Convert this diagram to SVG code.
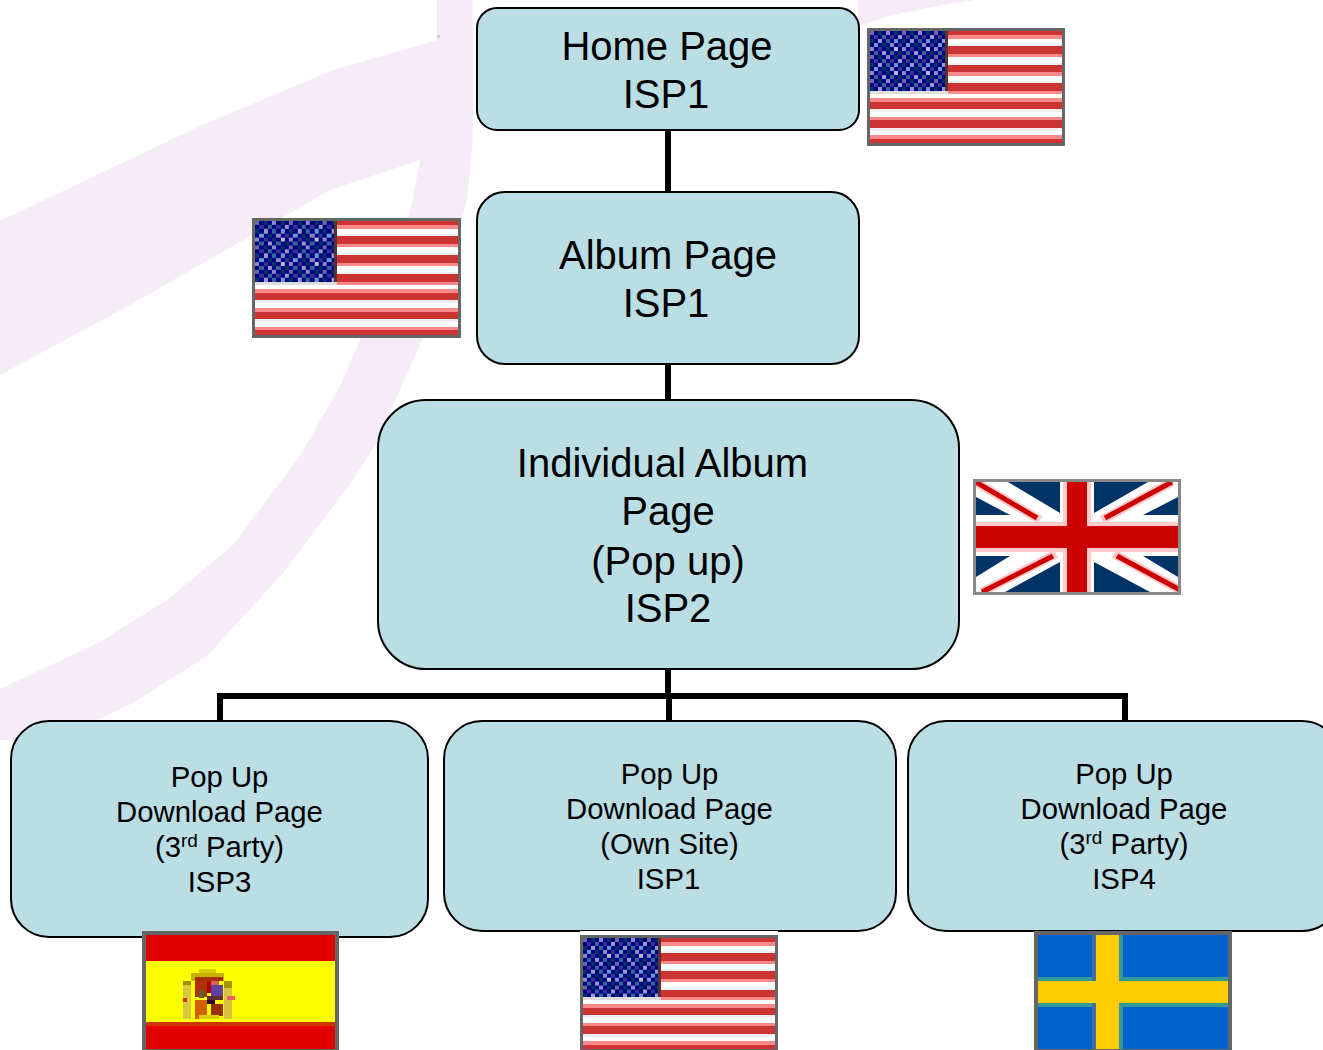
<svg xmlns="http://www.w3.org/2000/svg" width="1323" height="1050" viewBox="0 0 1323 1050">
<style>
.box{fill:#bbdde4;stroke:#000;stroke-width:2}
.lbl{font-family:"Liberation Sans",Arial,sans-serif;text-anchor:middle;fill:#000}
.lg{font-size:40px}
.sm{font-size:29.3px}
.sup{font-size:19px}
.conn{fill:none;stroke:#000;stroke-width:6}
.swoosh{fill:#f6ecf8}
.crisp{shape-rendering:crispEdges}
.r{fill:#cc3333}
.p{fill:#ff8888}
.g{fill:#eeeeee}
</style>
<defs>
<pattern id="stars" patternUnits="userSpaceOnUse" width="32" height="24">
<g shape-rendering="crispEdges">
<rect width="32" height="24" fill="#000080"/>
<rect x="0" y="0" width="4" height="4" fill="#6a6aa8"/><rect x="8" y="0" width="4" height="4" fill="#003366"/><rect x="16" y="0" width="4" height="4" fill="#8a8ac8"/><rect x="24" y="0" width="4" height="4" fill="#003366"/>
<rect x="4" y="4" width="4" height="4" fill="#333399"/><rect x="12" y="4" width="4" height="4" fill="#336699"/><rect x="20" y="4" width="4" height="4" fill="#333399"/><rect x="28" y="4" width="4" height="4" fill="#9999cc"/>
<rect x="0" y="8" width="4" height="4" fill="#003366"/><rect x="8" y="8" width="4" height="4" fill="#9999cc"/><rect x="16" y="8" width="4" height="4" fill="#336699"/><rect x="24" y="8" width="4" height="4" fill="#6699cc"/>
<rect x="4" y="12" width="4" height="4" fill="#6699cc"/><rect x="12" y="12" width="4" height="4" fill="#003366"/><rect x="20" y="12" width="4" height="4" fill="#8a8ac8"/><rect x="28" y="12" width="4" height="4" fill="#333399"/>
<rect x="0" y="16" width="4" height="4" fill="#8a8ac8"/><rect x="8" y="16" width="4" height="4" fill="#333399"/><rect x="16" y="16" width="4" height="4" fill="#003366"/><rect x="24" y="16" width="4" height="4" fill="#bbbbcc"/>
<rect x="4" y="20" width="4" height="4" fill="#336699"/><rect x="12" y="20" width="4" height="4" fill="#9999cc"/><rect x="20" y="20" width="4" height="4" fill="#336699"/><rect x="28" y="20" width="4" height="4" fill="#003366"/>
</g>
</pattern>
<symbol id="usflag" viewBox="0 0 192 112" preserveAspectRatio="none">
<g class="crisp">
<rect width="192" height="112" fill="#fff"/>
<rect class="r" y="0" width="192" height="4"/><rect class="p" y="4" width="192" height="4"/><rect class="g" y="13" width="192" height="2"/>
<rect class="r" y="15" width="192" height="8"/><rect class="p" y="23" width="192" height="3"/><rect class="g" y="31.500" width="192" height="2"/>
<rect class="r" y="33.500" width="192" height="7.500"/><rect class="p" y="41" width="192" height="3.500"/><rect class="g" y="50" width="192" height="2"/>
<rect class="r" y="52" width="192" height="7.500"/><rect class="p" y="59.500" width="192" height="3.500"/>
<rect class="r" y="70.500" width="192" height="7.500"/><rect class="p" y="67" width="192" height="3.500"/><rect class="g" y="78" width="192" height="3"/>
<rect class="p" y="85.500" width="192" height="3.500"/><rect class="r" y="89" width="192" height="7.500"/><rect class="g" y="96.500" width="192" height="3"/>
<rect class="p" y="104" width="192" height="3.500"/><rect class="r" y="107.500" width="192" height="4.500"/>
<rect width="75" height="60" fill="url(#stars)"/>
<rect x="75" width="3" height="60" fill="#553333"/>
<rect y="60" width="78" height="3" fill="#dddddd"/>
</g>
</symbol>
<clipPath id="ukclip"><rect x="976" y="482" width="202" height="110"/></clipPath>
</defs>
<g id="background">
<path class="swoosh" d="M437 0H473V140L467 200L450 265L423 338L377 442L353 480L283 573L207 656L133 703L93 722L60 740H0V689L100 642L167 600L233 545L300 456L340 386L360 340L410 212L420 160L330 190L252 235L130 305L0 375V221L200 126L333 70L437 40Z"/>
<path class="swoosh" d="M858 0H975L942 5L893 15L868 23L858 26Z"/>
<rect x="437" y="35" width="3" height="3" fill="#cccccc"/>
</g>
<g id="connectors">
<path class="conn" d="M668 130V192M668 364V400M668 669V697"/>
<path class="conn" d="M220 721V696H1125V721M669 696V721"/>
</g>
<g id="node-home">
<rect class="box" x="477" y="8" width="382" height="122" rx="20"/>
<text class="lbl lg" x="667" y="60">Home Page</text>
<text class="lbl lg" x="666" y="108">ISP1</text>
</g>
<g id="node-album">
<rect class="box" x="477" y="192" width="382" height="172" rx="28"/>
<text class="lbl lg" x="668" y="269">Album Page</text>
<text class="lbl lg" x="666" y="317">ISP1</text>
</g>
<g id="node-individual">
<rect class="box" x="378" y="400" width="581" height="269" rx="48"/>
<text class="lbl lg" x="662.500" y="477">Individual Album</text>
<text class="lbl lg" x="668" y="525">Page</text>
<text class="lbl lg" x="668" y="575">(Pop up)</text>
<text class="lbl lg" x="668" y="622">ISP2</text>
</g>
<g id="node-popup-isp3">
<rect class="box" x="11" y="721" width="417" height="216" rx="38"/>
<text class="lbl sm" x="219.500" y="787">Pop Up</text>
<text class="lbl sm" x="219.500" y="822">Download Page</text>
<text class="lbl sm" x="219.500" y="857">(3<tspan class="sup" dy="-10">rd</tspan><tspan dy="10"> Party)</tspan></text>
<text class="lbl sm" x="219.500" y="892">ISP3</text>
</g>
<g id="node-popup-isp1">
<rect class="box" x="444" y="721" width="452" height="210" rx="38"/>
<text class="lbl sm" x="669.500" y="784">Pop Up</text>
<text class="lbl sm" x="669.500" y="819">Download Page</text>
<text class="lbl sm" x="669.500" y="854">(Own Site)</text>
<text class="lbl sm" x="668.500" y="889">ISP1</text>
</g>
<g id="node-popup-isp4">
<rect class="box" x="908" y="721" width="432" height="210" rx="38"/>
<text class="lbl sm" x="1124" y="784">Pop Up</text>
<text class="lbl sm" x="1124" y="819">Download Page</text>
<text class="lbl sm" x="1124" y="854">(3<tspan class="sup" dy="-10">rd</tspan><tspan dy="10"> Party)</tspan></text>
<text class="lbl sm" x="1124" y="889">ISP4</text>
</g>
<g id="flag-us-home">
<rect x="867" y="28" width="198" height="118" fill="#666"/>
<use href="#usflag" x="870" y="31" width="192" height="112"/>
</g>
<g id="flag-us-album">
<rect x="252" y="218" width="209" height="120" fill="#666"/>
<use href="#usflag" x="255" y="221" width="203" height="114"/>
</g>
<g id="flag-uk">
<rect x="973" y="479" width="208" height="116" fill="#888"/>
<rect x="976" y="482" width="202" height="110" fill="#fff"/>
<g fill="#003366">
<path d="M1008 482H1060V513Z"/><path d="M976 497L1010 515H976Z"/>
<path d="M1094 513V482H1148Z"/><path d="M1143 515L1178 497V515Z"/>
<path d="M976 556H1010L976 577Z"/><path d="M1060 562V592H1005Z"/>
<path d="M1094 562L1150 592H1094Z"/><path d="M1143 556H1178V577Z"/>
</g>
<g clip-path="url(#ukclip)" fill="none">
<path stroke="#ffc8c8" stroke-width="9" d="M974 481L1040 520M1172 482L1102 520M982 592L1056 554M1180 590L1114 554"/>
<path stroke="#cc0000" stroke-width="5" d="M974 481L1037 518M1172 482L1105 518M982 592L1053 556M1180 590L1117 556"/>
</g>
<rect x="1063" y="482" width="28" height="110" fill="#ffcccc"/>
<rect x="976" y="522" width="202" height="30" fill="#ffcccc"/>
<rect x="1067" y="482" width="20" height="110" fill="#cc0000"/>
<rect x="976" y="526" width="202" height="22" fill="#cc0000"/>
</g>
<g id="flag-es" class="crisp">
<rect x="142" y="931" width="197" height="119" fill="#666"/>
<rect x="146" y="935" width="189" height="26" fill="#e00000"/>
<rect x="146" y="961" width="189" height="61" fill="#ffff00"/>
<rect x="146" y="1022" width="189" height="4" fill="#cc3300"/>
<rect x="146" y="1026" width="189" height="23" fill="#e00000"/>
<rect x="199" y="969" width="17" height="8" fill="#d8cc00"/>
<rect x="191" y="973" width="33" height="8" fill="#c8b400"/>
<rect x="195" y="977" width="28" height="4" fill="#a83000"/>
<rect x="183" y="981" width="12" height="38" fill="#d8c840"/>
<rect x="224" y="981" width="8" height="38" fill="#d8c040"/>
<rect x="224" y="981" width="8" height="7" fill="#a09800"/>
<rect x="183" y="981" width="8" height="4" fill="#a09000"/>
<rect x="183" y="998" width="4" height="4" fill="#d83030"/>
<rect x="227" y="996" width="8" height="4" fill="#e86060"/>
<rect x="191" y="981" width="33" height="38" fill="#ffff00"/>
<rect x="195" y="981" width="12" height="16" fill="#b03000"/>
<rect x="199" y="990" width="5" height="8" fill="#606030"/>
<rect x="207" y="981" width="4" height="12" fill="#b00000"/>
<rect x="211" y="985" width="12" height="12" fill="#6040a0"/>
<rect x="211" y="981" width="8" height="4" fill="#e06060"/>
<rect x="207" y="996" width="16" height="4" fill="#603030"/>
<rect x="195" y="1000" width="12" height="19" fill="#d06000"/>
<rect x="207" y="1000" width="8" height="4" fill="#300030"/>
<rect x="211" y="1004" width="12" height="12" fill="#983000"/>
<rect x="199" y="1015" width="20" height="4" fill="#d8cc00"/>
</g>
<g id="flag-us-own">
<rect x="580" y="931" width="198" height="4" fill="#fff"/>
<rect x="580" y="935" width="198" height="115" fill="#666"/>
<use href="#usflag" x="583" y="938" width="192" height="111"/>
</g>
<g id="flag-se" class="crisp">
<rect x="1034" y="931" width="198" height="119" fill="#666"/>
<rect x="1038" y="935" width="190" height="114" fill="#0063cd"/>
<rect x="1038" y="977" width="190" height="30" fill="#339999"/>
<rect x="1092" y="935" width="4" height="114" fill="#4070a0"/>
<rect x="1119" y="935" width="4" height="114" fill="#339999"/>
<rect x="1038" y="981" width="190" height="22" fill="#ffcc00"/>
<rect x="1096" y="935" width="23" height="114" fill="#ffcc00"/>
</g>
</svg>
